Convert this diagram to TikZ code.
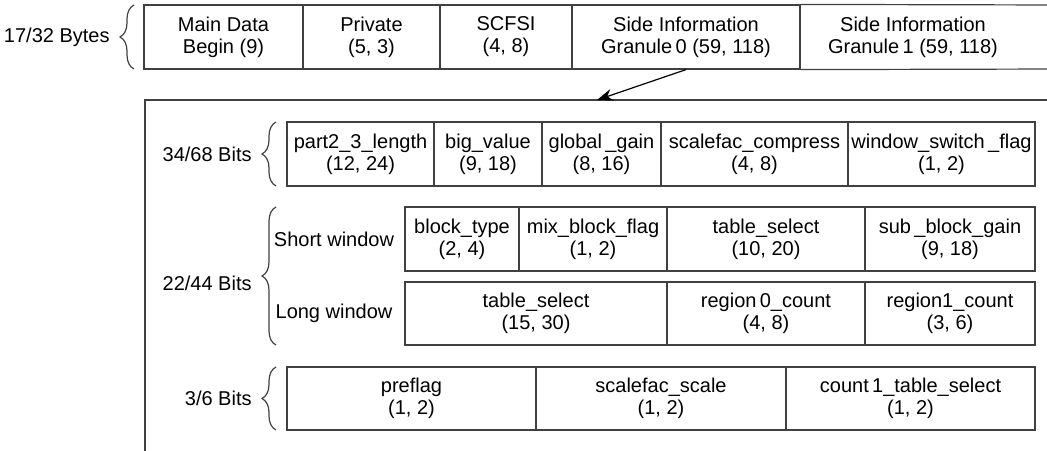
\documentclass[tikz,border=0pt]{standalone}
\usepackage{fontspec}
\setmainfont{Liberation Sans}
\usetikzlibrary{decorations.pathreplacing,arrows.meta}
\begin{document}
\begin{tikzpicture}[x=0.5pt,y=-0.5pt,
  lc/.style={draw=black!75, line width=0.6pt},
  txt/.style={inner sep=0pt, align=center, font=\fontsize{10}{11}\selectfont},
  cell/.style={lc, txt},
  lbl/.style={txt, anchor=east},
  brc/.style={lc, decorate, decoration={brace, amplitude=7pt}}]
\useasboundingbox (0,0) rectangle (1047,450);

% top row
\node[cell, minimum width=79.5pt, minimum height=32pt] (main) at (223.5,37) {Main Data\\Begin (9)};
\node[cell, minimum width=68.5pt, minimum height=32pt] (priv) at (371.5,37) {Private\\(5, 3)};
\node[cell, minimum width=66pt, minimum height=32pt] (scfsi) at (506,37) {SCFSI\\(4, 8)};
\node[cell, minimum width=114pt, minimum height=32pt] (side0) at (686,37) {Side Information\\Granule\,0 (59, 118)};
\node[txt, minimum height=32pt] (side1) at (913,37) {Side Information\\Granule\,1 (59, 118)};
\draw[lc] (side0.north east) -- (1060,5);
\draw[lc] (side0.south east) -- (1060,69);
\node[lbl] (bytes) at (110,37) {17/32 Bytes};
\draw[brc] (134,69) -- (134,5);

% big box
\coordinate (bbtr) at (1060,100);
\coordinate (bbbl) at (145,460);
\draw[lc] (bbtr) -| (bbbl);
\coordinate (aend) at (597,100);
\draw[lc, draw=black, -{Stealth[length=8pt,width=6pt]}] (side0.south) -- (aend);

% row 1
\node[cell, minimum width=73.5pt, minimum height=32pt] (p23) at (360.5,154) {part2\_3\_length\\(12, 24)};
\node[cell, minimum width=54pt, minimum height=32pt] (bigv) at (488,154) {big\_value\\(9, 18)};
\node[cell, minimum width=59.5pt, minimum height=32pt] (gg) at (601.5,154) {global\,\_gain\\(8, 16)};
\node[cell, minimum width=93.5pt, minimum height=32pt] (sfc) at (754.5,154) {scalefac\_compress\\(4, 8)};
\node[cell, minimum width=93.5pt, minimum height=32pt] (wsf) at (941.5,154) {window\_switch\,\_flag\\(1, 2)};
\node[lbl] (b34) at (252,154) {34/68 Bits};
\draw[brc] (276,186) -- (276,122);

% row 2 short
\node[cell, minimum width=57pt, minimum height=32pt] (bt) at (462,239) {block\_type\\(2, 4)};
\node[cell, minimum width=74pt, minimum height=32pt] (mbf) at (593,239) {mix\_block\_flag\\(1, 2)};
\node[cell, minimum width=99pt, minimum height=32pt] (ts1) at (766,239) {table\_select\\(10, 20)};
\node[cell, minimum width=85pt, minimum height=32pt] (sbg) at (950,239) {sub\,\_block\_gain\\(9, 18)};
% row 2 long
\node[cell, minimum width=131pt, minimum height=31.5pt] (ts2) at (536,313.5) {table\_select\\(15, 30)};
\node[cell, minimum width=99pt, minimum height=31.5pt] (r0) at (766,313.5) {region\,0\_count\\(4, 8)};
\node[cell, minimum width=85pt, minimum height=31.5pt] (r1) at (950,313.5) {region1\_count\\(3, 6)};
\node[txt] (sw) at (334,239) {Short window};
\node[txt] (lw) at (334,313) {Long window};
\node[lbl] (b22) at (252,283) {22/44 Bits};
\draw[brc] (276,345) -- (276,207);

% row 3
\node[cell, minimum width=124.5pt, minimum height=31.5pt] (pf) at (411.5,398.5) {preflag\\(1, 2)};
\node[cell, minimum width=125pt, minimum height=31.5pt] (ss) at (661,398.5) {scalefac\_scale\\(1, 2)};
\node[cell, minimum width=124.5pt, minimum height=31.5pt] (c1) at (910.5,398.5) {count\,1\_table\_select\\(1, 2)};
\node[lbl] (b3) at (252,398) {3/6 Bits};
\draw[brc] (276,430) -- (276,367);
\end{tikzpicture}
\end{document}
